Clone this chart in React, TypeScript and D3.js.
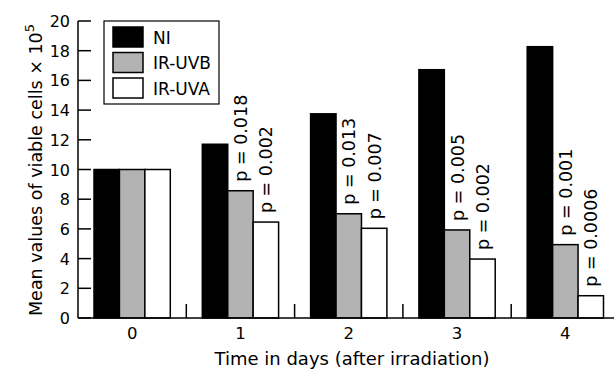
import React from "react";
import * as d3 from "d3";

const days = ["0", "1", "2", "3", "4"];
const seriesNames = ["NI", "IR-UVB", "IR-UVA"];
const niValues = [10, 11.7, 13.75, 16.72, 18.27];
const uvbValues = [10, 8.57, 7.02, 5.93, 4.94];
const uvaValues = [10, 6.46, 6.04, 3.97, 1.5];
const uvbPLabels = ["", "p = 0.018", "p = 0.013", "p = 0.005", "p = 0.001"];
const uvaPLabels = ["", "p = 0.002", "p = 0.007", "p = 0.002", "p = 0.0006"];
const yTicks = [0, 2, 4, 6, 8, 10, 12, 14, 16, 18, 20];

const W = 614;
const H = 371;
const FONT = "'DejaVu Sans', sans-serif";
const fills = ["#000000", "#b3b3b3", "#ffffff"];

export default function App() {
  const left = 78;
  const top = 21;
  const bottom = 318;
  const bandW = 108.3;
  const x = d3.scaleBand<string>().domain(days).range([left, left + bandW * days.length]).padding(0);
  const inner = d3.scaleBand<string>().domain(seriesNames).range([16, x.bandwidth() - 16]).padding(0);
  const y = d3.scaleLinear().domain([0, 20]).range([bottom, top]);
  const series = [niValues, uvbValues, uvaValues];
  const pLabels = [null, uvbPLabels, uvaPLabels];

  return (
    <svg width={W} height={H} style={{ position: "absolute", left: 0, top: 0 }} fontFamily={FONT}>
      <rect width={W} height={H} fill="#fff" />
      {days.map((d, i) => (
        <g key={d}>
          {series.map((vals, s) => {
            const bx = (x(d) as number) + (inner(seriesNames[s]) as number);
            return (
              <rect
                key={s}
                x={bx}
                y={y(vals[i])}
                width={inner.bandwidth()}
                height={y(0) - y(vals[i])}
                fill={fills[s]}
                stroke="#000"
                strokeWidth={1.5}
              />
            );
          })}
          {pLabels.map((labs, s) => {
            if (!labs || !labs[i]) return null;
            const cx = (x(d) as number) + (inner(seriesNames[s]) as number) + inner.bandwidth() / 2;
            const ty = y(series[s][i]) - 9;
            return (
              <text
                key={"p" + s}
                transform={`translate(${cx + 6.5},${ty}) rotate(-90)`}
                fontSize={17.5}
                textAnchor="start"
                fill="#000"
              >
                {labs[i]}
              </text>
            );
          })}
        </g>
      ))}
      <line x1={left} x2={left} y1={top} y2={bottom} stroke="#000" strokeWidth={1.5} />
      {yTicks.map((t) => (
        <g key={t}>
          <line x1={left} x2={left + 13} y1={y(t)} y2={y(t)} stroke="#000" strokeWidth={1.5} />
          <text x={70} y={y(t) + 6} fontSize={16} textAnchor="end" fill="#000">
            {t}
          </text>
        </g>
      ))}
      <line x1={left} x2={W} y1={bottom} y2={bottom} stroke="#000" strokeWidth={1.5} />
      {days.slice(1).map((d) => (
        <line
          key={"mt" + d}
          x1={x(d)}
          x2={x(d)}
          y1={bottom}
          y2={bottom - 14}
          stroke="#000"
          strokeWidth={1.5}
        />
      ))}
      {days.map((d) => (
        <text key={"xl" + d} x={(x(d) as number) + x.bandwidth() / 2} y={339} fontSize={16.5} textAnchor="middle" fill="#000">
          {d}
        </text>
      ))}
      <text x={352} y={365} fontSize={18} textAnchor="middle" fill="#000">
        Time in days (after irradiation)
      </text>
      <text transform={`translate(42,170) rotate(-90)`} fontSize={17.5} textAnchor="middle" fill="#000">
        Mean values of viable cells × 10
        <tspan dy={-8} fontSize={13}>5</tspan>
      </text>
      <rect x={104} y={21} width={115} height={83} fill="#fff" stroke="#000" strokeWidth={1.2} />
      {seriesNames.map((n, s) => (
        <g key={n}>
          <rect x={113} y={27 + s * 25.5} width={30} height={20} fill={fills[s]} stroke="#000" strokeWidth={1.5} />
          <text x={153} y={27 + s * 25.5 + 16.5} fontSize={17} fill="#000">
            {n}
          </text>
        </g>
      ))}
    </svg>
  );
}
